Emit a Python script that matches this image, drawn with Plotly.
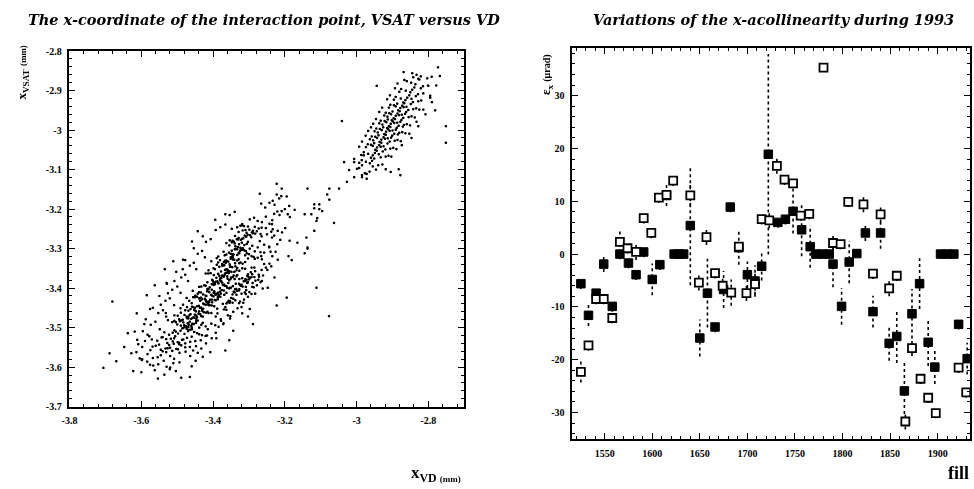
import plotly.graph_objects as go

# ---------------------------------------------------------------
# Left panel: interaction point x-coordinate, VSAT vs VD (mm)
# ---------------------------------------------------------------
# Main cloud, one line per horizontal slice of x_VSAT
main_vd = [
    -3.582,-3.551,-3.528,-3.597,-3.509,-3.565,-3.536,-3.518,-3.492,-3.574,
    -3.581,-3.553,-3.529,-3.507,-3.544,-3.492,-3.566,-3.518,-3.475,-3.596,
    -3.558,-3.531,-3.512,-3.493,-3.476,-3.544,-3.521,-3.454,-3.567,-3.501,
    -3.525,-3.487,-3.539,-3.446,-3.508,-3.573,-3.463,-3.549,-3.496,-3.518,
    -3.526,-3.504,-3.481,-3.462,-3.539,-3.493,-3.516,-3.448,-3.471,-3.554,
    -3.497,-3.529,-3.458,-3.511,-3.485,-3.433,-3.542,-3.476,-3.507,-3.419,
    -3.502,-3.478,-3.457,-3.521,-3.489,-3.443,-3.467,-3.511,-3.429,-3.484,
    -3.472,-3.496,-3.451,-3.534,-3.461,-3.415,-3.506,-3.482,-3.437,-3.468,
    -3.491,-3.467,-3.446,-3.479,-3.512,-3.431,-3.458,-3.486,-3.403,-3.474,
    -3.452,-3.498,-3.463,-3.437,-3.481,-3.524,-3.419,-3.469,-3.445,-3.488,
    -3.473,-3.456,-3.502,-3.392,-3.441,-3.478,-3.466,-3.427,-3.459,-3.506,
    -3.478,-3.452,-3.434,-3.467,-3.493,-3.418,-3.445,-3.471,-3.386,-3.459,
    -3.439,-3.483,-3.449,-3.424,-3.467,-3.506,-3.403,-3.455,-3.431,-3.472,
    -3.461,-3.443,-3.488,-3.377,-3.427,-3.464,-3.452,-3.411,-3.446,-3.497,
    -3.461,-3.437,-3.418,-3.449,-3.476,-3.402,-3.428,-3.454,-3.368,-3.443,
    -3.423,-3.467,-3.432,-3.408,-3.451,-3.489,-3.387,-3.438,-3.414,-3.457,
    -3.446,-3.426,-3.471,-3.361,-3.411,-3.448,-3.435,-3.395,-3.429,-3.482,
    -3.443,-3.419,-3.401,-3.432,-3.458,-3.385,-3.411,-3.437,-3.351,-3.426,
    -3.406,-3.449,-3.415,-3.391,-3.434,-3.472,-3.371,-3.421,-3.397,-3.352,
    -3.429,-3.409,-3.454,-3.344,-3.394,-3.431,-3.418,-3.378,-3.412,-3.465,
    -3.348,-3.355,-3.361,-3.342,-3.336,-3.358,-3.385,-3.323,-3.402,-3.314,
    -3.426,-3.402,-3.383,-3.415,-3.441,-3.368,-3.394,-3.419,-3.334,-3.409,
    -3.389,-3.432,-3.397,-3.374,-3.417,-3.455,-3.353,-3.404,-3.379,-3.337,
    -3.411,-3.391,-3.437,-3.326,-3.377,-3.414,-3.401,-3.361,-3.395,-3.307,
    -3.331,-3.338,-3.344,-3.325,-3.319,-3.341,-3.367,-3.306,-3.385,-3.448,
    -3.408,-3.384,-3.366,-3.397,-3.423,-3.351,-3.376,-3.402,-3.316,-3.391,
    -3.371,-3.414,-3.379,-3.356,-3.399,-3.437,-3.335,-3.386,-3.361,-3.319,
    -3.393,-3.373,-3.419,-3.308,-3.359,-3.396,-3.383,-3.343,-3.377,-3.289,
    -3.313,-3.321,-3.326,-3.307,-3.301,-3.323,-3.349,-3.288,-3.367,-3.431,
    -3.389,-3.366,-3.348,-3.379,-3.405,-3.333,-3.358,-3.384,-3.298,-3.373,
    -3.353,-3.396,-3.361,-3.338,-3.381,-3.419,-3.317,-3.368,-3.343,-3.301,
    -3.375,-3.355,-3.401,-3.291,-3.341,-3.378,-3.365,-3.325,-3.359,-3.271,
    -3.295,-3.303,-3.308,-3.289,-3.283,-3.305,-3.331,-3.270,-3.349,-3.412,
    -3.381,-3.358,-3.339,-3.371,-3.397,-3.325,-3.351,-3.376,-3.291,-3.365,
    -3.345,-3.388,-3.353,-3.331,-3.373,-3.411,-3.309,-3.361,-3.336,-3.293,
    -3.367,-3.347,-3.393,-3.283,-3.333,-3.371,-3.357,-3.317,-3.351,-3.263,
    -3.373,-3.349,-3.331,-3.363,-3.388,-3.316,-3.342,-3.368,-3.282,-3.356,
    -3.337,-3.379,-3.345,-3.322,-3.365,-3.403,-3.301,-3.352,-3.327,-3.285,
    -3.359,-3.339,-3.384,-3.274,-3.325,-3.362,-3.349,-3.309,-3.343,-3.256,
    -3.354,-3.331,-3.312,-3.344,-3.369,-3.298,-3.323,-3.349,-3.264,-3.338,
    -3.318,-3.361,-3.327,-3.304,-3.346,-3.384,-3.282,-3.334,-3.309,-3.266,
    -3.341,-3.321,-3.366,-3.256,-3.307,-3.344,-3.331,-3.291,-3.325,-3.238,
    -3.346,-3.322,-3.304,-3.336,-3.361,-3.289,-3.315,-3.341,-3.256,-3.329,
    -3.311,-3.353,-3.318,-3.296,-3.338,-3.268,-3.274,-3.326,-3.301,-3.242,
    -3.337,-3.314,-3.295,-3.327,-3.352,-3.281,-3.306,-3.332,-3.248,-3.321,
    -3.302,-3.344,-3.310,-3.287,-3.329,-3.263,-3.266,-3.317,-3.292,-3.234,
    -3.331,-3.308,-3.290,-3.322,-3.346,-3.276,-3.301,-3.327,-3.251,-3.316,
    -3.297,-3.282,-3.305,-3.263,-3.318,-3.236,-3.271,-3.312,-3.287,-3.232,
    -3.296,-3.262,-3.251,-3.228,-3.274,-3.241,-3.213,-3.284,-3.233,-3.219,
    -3.253,-3.227,-3.214,-3.241,-3.198,-3.208,-3.232,-3.186,-3.221,-3.264,
]
main_vsat = [
    -3.585,-3.592,-3.598,-3.581,-3.589,-3.595,-3.583,-3.600,-3.587,-3.593,
    -3.566,-3.574,-3.561,-3.578,-3.569,-3.563,-3.576,-3.571,-3.560,-3.579,
    -3.545,-3.552,-3.558,-3.541,-3.549,-3.555,-3.543,-3.557,-3.547,-3.553,
    -3.551,-3.544,-3.559,-3.546,-3.540,-3.556,-3.548,-3.542,-3.554,-3.550,
    -3.538,-3.521,-3.529,-3.535,-3.523,-3.537,-3.527,-3.533,-3.525,-3.532,
    -3.536,-3.528,-3.522,-3.534,-3.530,-3.531,-3.524,-3.539,-3.526,-3.520,
    -3.509,-3.515,-3.503,-3.517,-3.507,-3.513,-3.505,-3.512,-3.518,-3.501,
    -3.502,-3.514,-3.510,-3.511,-3.504,-3.519,-3.506,-3.500,-3.516,-3.508,
    -3.483,-3.497,-3.487,-3.493,-3.485,-3.492,-3.498,-3.481,-3.489,-3.495,
    -3.490,-3.491,-3.484,-3.499,-3.486,-3.480,-3.496,-3.488,-3.482,-3.494,
    -3.496,-3.489,-3.485,-3.493,-3.481,-3.498,-3.491,-3.487,-3.494,-3.482,
    -3.467,-3.473,-3.465,-3.472,-3.478,-3.461,-3.469,-3.475,-3.463,-3.477,
    -3.464,-3.479,-3.466,-3.460,-3.476,-3.468,-3.462,-3.474,-3.470,-3.471,
    -3.465,-3.473,-3.461,-3.478,-3.471,-3.467,-3.474,-3.462,-3.476,-3.469,
    -3.452,-3.458,-3.441,-3.449,-3.455,-3.443,-3.457,-3.447,-3.453,-3.445,
    -3.440,-3.456,-3.448,-3.442,-3.454,-3.450,-3.451,-3.444,-3.459,-3.446,
    -3.458,-3.451,-3.447,-3.454,-3.442,-3.456,-3.449,-3.445,-3.453,-3.441,
    -3.421,-3.429,-3.435,-3.423,-3.437,-3.427,-3.433,-3.425,-3.432,-3.438,
    -3.428,-3.422,-3.434,-3.430,-3.431,-3.424,-3.439,-3.426,-3.420,-3.436,
    -3.427,-3.434,-3.422,-3.436,-3.429,-3.425,-3.433,-3.421,-3.438,-3.431,
    -3.424,-3.431,-3.438,-3.426,-3.430,-3.435,-3.422,-3.433,-3.428,-3.436,
    -3.415,-3.403,-3.417,-3.407,-3.413,-3.405,-3.412,-3.418,-3.401,-3.409,
    -3.414,-3.410,-3.411,-3.404,-3.419,-3.406,-3.400,-3.416,-3.408,-3.402,
    -3.402,-3.416,-3.409,-3.405,-3.413,-3.401,-3.418,-3.411,-3.407,-3.414,
    -3.406,-3.410,-3.415,-3.402,-3.413,-3.408,-3.416,-3.404,-3.411,-3.418,
    -3.397,-3.387,-3.393,-3.385,-3.392,-3.398,-3.381,-3.389,-3.395,-3.383,
    -3.391,-3.384,-3.399,-3.386,-3.380,-3.396,-3.388,-3.382,-3.394,-3.390,
    -3.389,-3.385,-3.393,-3.381,-3.398,-3.391,-3.387,-3.394,-3.382,-3.396,
    -3.382,-3.393,-3.388,-3.396,-3.384,-3.391,-3.398,-3.386,-3.390,-3.395,
    -3.373,-3.365,-3.372,-3.378,-3.361,-3.369,-3.375,-3.363,-3.377,-3.367,
    -3.379,-3.366,-3.360,-3.376,-3.368,-3.362,-3.374,-3.370,-3.371,-3.364,
    -3.373,-3.361,-3.378,-3.371,-3.367,-3.374,-3.362,-3.376,-3.369,-3.365,
    -3.373,-3.368,-3.376,-3.364,-3.371,-3.378,-3.366,-3.370,-3.375,-3.362,
    -3.345,-3.352,-3.358,-3.341,-3.349,-3.355,-3.343,-3.357,-3.347,-3.353,
    -3.346,-3.340,-3.356,-3.348,-3.342,-3.354,-3.350,-3.351,-3.344,-3.359,
    -3.341,-3.358,-3.351,-3.347,-3.354,-3.342,-3.356,-3.349,-3.345,-3.353,
    -3.338,-3.321,-3.329,-3.335,-3.323,-3.337,-3.327,-3.333,-3.325,-3.332,
    -3.336,-3.328,-3.322,-3.334,-3.330,-3.331,-3.324,-3.339,-3.326,-3.320,
    -3.331,-3.327,-3.334,-3.322,-3.336,-3.329,-3.325,-3.333,-3.321,-3.338,
    -3.309,-3.315,-3.303,-3.317,-3.307,-3.313,-3.305,-3.312,-3.318,-3.301,
    -3.302,-3.314,-3.310,-3.311,-3.304,-3.319,-3.306,-3.300,-3.316,-3.308,
    -3.314,-3.302,-3.316,-3.309,-3.305,-3.313,-3.301,-3.318,-3.311,-3.307,
    -3.283,-3.297,-3.287,-3.293,-3.285,-3.292,-3.298,-3.281,-3.289,-3.295,
    -3.290,-3.291,-3.284,-3.299,-3.286,-3.280,-3.296,-3.288,-3.282,-3.294,
    -3.267,-3.273,-3.265,-3.272,-3.278,-3.261,-3.269,-3.275,-3.263,-3.277,
    -3.264,-3.279,-3.266,-3.260,-3.276,-3.268,-3.262,-3.274,-3.270,-3.271,
    -3.245,-3.252,-3.258,-3.241,-3.249,-3.255,-3.243,-3.257,-3.247,-3.253,
    -3.251,-3.244,-3.259,-3.246,-3.240,-3.256,-3.248,-3.242,-3.254,-3.250,
    -3.225,-3.232,-3.218,-3.211,-3.229,-3.236,-3.214,-3.221,-3.227,-3.205,
    -3.195,-3.188,-3.172,-3.183,-3.199,-3.166,-3.178,-3.191,-3.162,-3.185,
]

# Wider, thinner envelope of the main cloud (pairs listed slice by slice)
outer_vd = [
    -3.603,-3.447,-3.612,-3.462,
    -3.596,-3.431,-3.588,-3.418,-3.607,-3.441,
    -3.581,-3.402,-3.594,-3.391,-3.569,-3.413,-3.576,
    -3.572,-3.383,-3.559,-3.369,-3.586,-3.391,-3.547,-3.376,
    -3.551,-3.357,-3.538,-3.342,-3.566,-3.364,-3.529,-3.351,-3.544,
    -3.531,-3.326,-3.519,-3.312,-3.548,-3.333,-3.507,-3.319,-3.524,-3.301,
    -3.512,-3.297,-3.498,-3.285,-3.527,-3.303,-3.489,-3.291,-3.506,-3.276,
    -3.487,-3.272,-3.476,-3.259,-3.501,-3.281,-3.468,-3.266,-3.483,
    -3.463,-3.251,-3.452,-3.241,-3.476,-3.262,-3.445,-3.247,
    -3.441,-3.233,-3.429,-3.224,-3.452,-3.242,-3.421,
    -3.418,-3.219,-3.405,-3.211,-3.427,-3.228,
    -3.391,-3.206,-3.378,-3.197,-3.364,
    -3.352,-3.184,-3.338,-3.171,
]
outer_vsat = [
    -3.577,-3.583,-3.561,-3.571,
    -3.548,-3.552,-3.533,-3.539,-3.541,-3.563,
    -3.517,-3.526,-3.508,-3.512,-3.529,-3.503,-3.521,
    -3.492,-3.497,-3.484,-3.488,-3.478,-3.471,-3.503,-3.482,
    -3.462,-3.468,-3.455,-3.459,-3.449,-3.447,-3.471,-3.476,-3.441,
    -3.431,-3.437,-3.425,-3.428,-3.419,-3.416,-3.442,-3.447,-3.412,-3.421,
    -3.403,-3.409,-3.395,-3.397,-3.388,-3.386,-3.411,-3.414,-3.381,-3.392,
    -3.372,-3.378,-3.365,-3.367,-3.358,-3.356,-3.381,-3.384,-3.351,
    -3.342,-3.347,-3.335,-3.337,-3.328,-3.326,-3.351,-3.353,
    -3.312,-3.318,-3.305,-3.307,-3.298,-3.296,-3.321,
    -3.282,-3.288,-3.275,-3.277,-3.268,-3.266,
    -3.252,-3.258,-3.245,-3.247,-3.238,
    -3.214,-3.219,-3.206,-3.201,
]

# Sparse fringe of the main cloud and isolated events
fringe_vd = [
    -3.342,-3.317,-3.389,-3.296,-3.281,-3.246,-3.301,-3.406,-3.427,-3.353,
    -3.227,-3.218,-3.262,-3.188,-3.236,-3.458,-3.463,-3.561,-3.574,-3.533,
    -3.482,-3.611,-3.457,-3.441,-3.617,-3.528,-3.509,-3.392,-3.583,-3.646,
    -3.636,-3.679,-3.687,-3.668,-3.704,-3.626,-3.621,-3.110,-3.193,-3.221,
    -3.364,-3.287,-3.075,-3.598,-3.561,-3.534,-3.502,-3.487,-3.552,-3.519,
    -3.330,-3.310,-3.280,-3.350,-3.370,-3.260,-3.300,-3.590,-3.610,-3.530,
]
fringe_vsat = [
    -3.507,-3.463,-3.526,-3.452,-3.413,-3.398,-3.471,-3.561,-3.573,-3.531,
    -3.372,-3.327,-3.381,-3.318,-3.344,-3.597,-3.624,-3.392,-3.452,-3.351,
    -3.327,-3.463,-3.281,-3.255,-3.509,-3.386,-3.331,-3.226,-3.417,-3.548,
    -3.513,-3.433,-3.564,-3.584,-3.601,-3.564,-3.609,-3.398,-3.423,-3.443,
    -3.557,-3.490,-3.470,-3.612,-3.607,-3.618,-3.609,-3.626,-3.628,-3.604,
    -3.450,-3.410,-3.380,-3.470,-3.490,-3.400,-3.370,-3.490,-3.530,-3.462,
]

# Events between the two clouds and at the top of the main cloud
bridge_vd = [
    -3.033,-3.005,-3.019,-2.997,-2.983,-2.970,-3.005,-2.983,-3.025,-2.978,
    -3.047,-3.074,-3.080,-3.074,-3.102,-3.116,-3.094,-3.108,-3.124,-3.061,
    -3.116,-3.138,-3.135,-3.143,-3.039,-2.942,-3.221,-3.207,-3.193,-3.268,
    -3.135,-3.143,-3.116,-3.102,-3.110,-3.116,-3.185,-3.163,-3.135,-3.179,
    -3.364,-3.317,-3.234,-3.218,-3.190,-3.207,
]
bridge_vsat = [
    -3.080,-3.080,-3.100,-3.097,-3.088,-3.110,-3.118,-3.118,-3.130,-3.063,
    -3.147,-3.147,-3.162,-3.175,-3.187,-3.197,-3.204,-3.222,-3.212,-3.234,
    -3.254,-3.271,-3.299,-3.311,-2.976,-2.887,-3.135,-3.147,-3.167,-3.160,
    -3.147,-3.212,-3.187,-3.199,-3.229,-3.254,-3.279,-3.284,-3.296,-3.328,
    -3.212,-3.237,-3.237,-3.254,-3.212,-3.204,
]

# Upper cloud
upper_vd = [
    -2.991,-2.962,-2.944,-2.975,-2.953,
    -2.984,-2.961,-2.938,-2.972,-2.949,-2.926,-2.955,-2.991,
    -2.978,-2.953,-2.931,-2.966,-2.942,-2.917,-2.947,-2.985,-2.925,-2.958,-2.936,-2.909,
    -2.967,-2.941,-2.918,-2.953,-2.929,-2.904,-2.935,-2.972,-2.912,-2.946,-2.923,-2.896,-2.958,-2.931,-2.887,-2.949,
    -2.956,-2.929,-2.906,-2.941,-2.917,-2.892,-2.923,-2.961,-2.899,-2.934,-2.911,-2.884,-2.946,-2.919,-2.875,-2.937,-2.902,-2.952,
    -2.943,-2.916,-2.893,-2.928,-2.904,-2.879,-2.910,-2.948,-2.886,-2.921,-2.898,-2.871,-2.933,-2.906,-2.862,-2.924,-2.889,-2.939,-2.913,-2.883,
    -2.931,-2.903,-2.881,-2.915,-2.891,-2.866,-2.897,-2.935,-2.873,-2.908,-2.885,-2.858,-2.920,-2.893,-2.849,-2.911,-2.876,-2.926,-2.900,-2.869,
    -2.917,-2.889,-2.868,-2.902,-2.878,-2.853,-2.884,-2.921,-2.860,-2.895,-2.872,-2.845,-2.907,-2.880,-2.836,-2.898,-2.863,-2.912,
    -2.904,-2.876,-2.854,-2.889,-2.865,-2.840,-2.871,-2.908,-2.847,-2.882,-2.859,-2.832,-2.894,-2.867,-2.823,-2.885,
    -2.889,-2.862,-2.841,-2.875,-2.851,-2.826,-2.857,-2.894,-2.833,-2.868,-2.845,-2.818,
    -2.874,-2.848,-2.827,-2.861,-2.837,-2.812,-2.843,-2.879,-2.819,
    -2.858,-2.834,-2.813,-2.846,-2.823,-2.799,
    -2.843,-2.819,-2.801,-2.831,
    -2.771,-2.766,-2.867,-2.840,-2.826,-2.749,-2.749,-2.779,-2.798,-2.793,
    -2.876,-2.903,-2.917,-2.881,-2.970,-2.983,
    -3.005,-2.901,-2.991,-2.872,-2.983,-2.973,-2.851,-2.966,-2.845,
    -2.952,-2.831,-2.944,-2.826,-2.958,-2.935,-2.812,-2.927,-2.806,
    -2.913,-2.793,-2.905,-2.788,-2.891,-2.776,-2.884,-2.865,-2.789,
]
upper_vsat = [
    -3.095,-3.104,-3.099,-3.108,-3.091,
    -3.075,-3.083,-3.088,-3.079,-3.071,-3.086,-3.077,-3.082,
    -3.055,-3.063,-3.068,-3.059,-3.051,-3.066,-3.057,-3.062,-3.053,-3.069,-3.060,-3.064,
    -3.035,-3.043,-3.048,-3.039,-3.031,-3.046,-3.037,-3.042,-3.033,-3.049,-3.040,-3.044,-3.036,-3.041,-3.047,-3.032,
    -3.015,-3.023,-3.028,-3.019,-3.011,-3.026,-3.017,-3.022,-3.013,-3.029,-3.020,-3.024,-3.016,-3.021,-3.027,-3.012,-3.018,-3.025,
    -2.995,-3.003,-3.008,-2.999,-2.991,-3.006,-2.997,-3.002,-2.993,-3.009,-3.000,-3.004,-2.996,-3.001,-3.007,-2.992,-2.998,-3.005,-2.994,-3.010,
    -2.975,-2.983,-2.988,-2.979,-2.971,-2.986,-2.977,-2.982,-2.973,-2.989,-2.980,-2.984,-2.976,-2.981,-2.987,-2.972,-2.978,-2.985,-2.974,-2.990,
    -2.955,-2.963,-2.968,-2.959,-2.951,-2.966,-2.957,-2.962,-2.953,-2.969,-2.960,-2.964,-2.956,-2.961,-2.967,-2.952,-2.958,-2.965,
    -2.935,-2.943,-2.948,-2.939,-2.931,-2.946,-2.937,-2.942,-2.933,-2.949,-2.940,-2.944,-2.936,-2.941,-2.947,-2.932,
    -2.915,-2.923,-2.928,-2.919,-2.911,-2.926,-2.917,-2.922,-2.913,-2.929,-2.920,-2.924,
    -2.895,-2.903,-2.908,-2.899,-2.891,-2.906,-2.897,-2.902,-2.893,
    -2.875,-2.883,-2.888,-2.879,-2.871,-2.886,
    -2.855,-2.863,-2.868,-2.859,
    -2.840,-2.862,-2.852,-2.865,-2.869,-2.989,-3.031,-2.949,-2.887,-2.912,
    -3.113,-3.105,-3.098,-3.098,-3.122,-3.113,
    -3.072,-3.066,-3.041,-3.037,-3.028,-3.013,-3.008,-3.001,-3.019,
    -2.983,-2.978,-2.971,-2.989,-2.992,-2.953,-2.947,-2.942,-2.959,
    -2.921,-2.917,-2.911,-2.928,-2.893,-2.886,-2.881,-2.872,-2.864,
]

vd_ticks = [-3.8, -3.6, -3.4, -3.2, -3.0, -2.8]
vd_labels = ["-3.8", "-3.6", "-3.4", "-3.2", "-3", "-2.8"]
vsat_ticks = [-2.8, -2.9, -3.0, -3.1, -3.2, -3.3, -3.4, -3.5, -3.6, -3.7]
vsat_labels = ["-2.8", "-2.9", "-3", "-3.1", "-3.2", "-3.3", "-3.4", "-3.5", "-3.6", "-3.7"]

# ---------------------------------------------------------------
# Right panel: x-acollinearity per fill during 1993 (µrad)
# ---------------------------------------------------------------
fill_open = [1525, 1533, 1541, 1549, 1558, 1566, 1574, 1583, 1591, 1599,
             1607, 1615, 1622, 1640, 1649, 1657, 1666, 1674, 1683, 1691,
             1699, 1708, 1715, 1723, 1731, 1739, 1748, 1756, 1765, 1780,
             1790, 1798, 1806, 1822, 1832, 1840, 1849, 1857, 1866, 1873,
             1882, 1890, 1898, 1922, 1930]
eps_open = [-22.3, -17.3, -8.5, -8.5, -12.1, 2.3, 1.1, 0.4, 6.8, 4.0,
            10.7, 11.2, 13.9, 11.1, -5.4, 3.2, -3.6, -6.0, -7.3, 1.4,
            -7.4, -5.7, 6.6, 6.4, 16.7, 14.1, 13.4, 7.3, 7.6, 35.3,
            2.1, 1.9, 9.9, 9.4, -3.7, 7.5, -6.5, -4.1, -31.7, -17.8,
            -23.6, -27.2, -30.1, -21.5, -26.2]
err_open = [2, 1, 1, 1, 1, 2, 1, 1.5, 1, 1,
            1, 1, 1, 2, 1.5, 1.5, 1, 1.5, 2.5, 1,
            1.5, 2, 1, 1.5, 1.5, 1, 1, 1, 1, 0.5,
            1.5, 1, 1, 1.5, 1, 1.5, 1.5, 1, 1.5, 1.5,
            1, 1, 1, 1, 1]

fill_full = [1525, 1533, 1541, 1549, 1558, 1566, 1575, 1583, 1591, 1600,
             1608, 1615, 1623, 1628, 1633, 1640, 1650, 1658, 1666, 1675,
             1682, 1691, 1700, 1708, 1715, 1722, 1732, 1740, 1748, 1757,
             1766, 1772, 1779, 1786, 1790, 1799, 1807, 1815, 1824, 1832,
             1840, 1849, 1857, 1865, 1873, 1881, 1890, 1897, 1903, 1910,
             1917, 1922, 1931]
eps_full = [-5.6, -11.6, -7.4, -1.9, -9.9, 0, -1.7, -3.9, 0.4, -4.8,
            -2.0, 11.1, 0, 0, 0, 5.4, -15.9, -7.4, -13.8, -6.7,
            8.9, 1.2, -3.9, -5.1, -2.3, 18.9, 6.0, 6.6, 8.1, 4.6,
            1.4, 0, 0, 0, -1.9, -9.9, -1.5, 0.1, 4.0, -10.9,
            4.0, -16.9, -15.6, -25.9, -11.3, -5.6, -16.7, -21.4, 0, 0,
            0, -13.3, -19.8]
err_full = [1, 2, 1, 1.5, 1, 1, 1, 1, 1, 3,
            1, 2, 0.5, 0.5, 0.5, 11.3, 3.5, 6.5, 1, 3.5,
            1, 3.2, 2.5, 3, 2.7, 19, 1, 1, 4.2, 5,
            4, 0.5, 0.5, 0.5, 4.4, 3.5, 4, 0.5, 1.5, 3,
            3, 3.3, 5, 5.5, 4.7, 4.8, 4.5, 3.2, 0.5, 0.5,
            0.5, 1, 3]

eps_ticks = [-30, -20, -10, 0, 10, 20, 30]
eps_labels = ["-30", "-20", "-10", "0", "10", "20", "30"]

SERIF = "Liberation Serif"
TITLE_SERIF = "DejaVu Serif"
W, H = 974, 489


def dotted_bars(xs, ys, errs):
    bx, by = [], []
    for x, y, e in zip(xs, ys, errs):
        bx += [x, x, None]
        by += [y - e, y + e, None]
    return bx, by


fig = go.Figure()

# left panel scatter
fig.add_trace(go.Scattergl(
    x=main_vd + outer_vd + fringe_vd + bridge_vd + upper_vd,
    y=main_vsat + outer_vsat + fringe_vsat + bridge_vsat + upper_vsat,
    mode="markers",
    marker=dict(color="black", size=2.8, line=dict(width=0)),
    xaxis="x", yaxis="y", showlegend=False,
))

# right panel: dotted error bars, then markers
for xs, ys, es in ((fill_full, eps_full, err_full), (fill_open, eps_open, err_open)):
    bx, by = dotted_bars(xs, ys, es)
    fig.add_trace(go.Scatter(
        x=bx, y=by, mode="lines",
        line=dict(color="black", width=1.6, dash="dot"),
        xaxis="x2", yaxis="y2", showlegend=False, hoverinfo="skip",
    ))

fig.add_trace(go.Scatter(
    x=fill_full, y=eps_full, mode="markers",
    marker=dict(symbol="square", size=8.5, color="black",
                line=dict(color="black", width=1)),
    xaxis="x2", yaxis="y2", showlegend=False,
))
fig.add_trace(go.Scatter(
    x=fill_open, y=eps_open, mode="markers",
    marker=dict(symbol="square", size=8, color="white",
                line=dict(color="black", width=1.8)),
    xaxis="x2", yaxis="y2", showlegend=False,
))

tickfont = dict(family=SERIF, size=10, color="black", weight="bold")
axis_common = dict(
    showline=True, linecolor="black", linewidth=1.6, mirror="allticks",
    ticks="inside", ticklen=6, tickwidth=1.3, tickcolor="black",
    showgrid=False, zeroline=False, tickfont=tickfont,
    ticklabelstandoff=4,
)

fig.update_layout(
    width=W, height=H,
    margin=dict(l=0, r=0, t=0, b=0),
    paper_bgcolor="white", plot_bgcolor="white",
    xaxis=dict(domain=[62 / W, 460 / W], range=[-3.8, -2.7],
               tickvals=vd_ticks, ticktext=vd_labels,
               minor=dict(dtick=0.04, tick0=-3.8, ticks="inside", ticklen=3,
                          tickwidth=1, tickcolor="black"),
               anchor="y", **axis_common),
    yaxis=dict(domain=[1 - 410 / H, 1 - 47 / H], range=[-3.7, -2.8],
               tickvals=vsat_ticks, ticktext=vsat_labels,
               minor=dict(dtick=0.02, tick0=-3.7, ticks="inside", ticklen=3,
                          tickwidth=1, tickcolor="black"),
               anchor="x", **axis_common),
    xaxis2=dict(domain=[569 / W, 970 / W], range=[1516, 1934],
                tickvals=[1550, 1600, 1650, 1700, 1750, 1800, 1850, 1900],
                minor=dict(dtick=10, tick0=1500, ticks="inside", ticklen=3,
                           tickwidth=1, tickcolor="black"),
                anchor="y2", **axis_common),
    yaxis2=dict(domain=[1 - 443 / H, 1 - 44 / H], range=[-35, 39],
                tickvals=eps_ticks, ticktext=eps_labels,
                minor=dict(dtick=2, tick0=0, ticks="inside", ticklen=3,
                           tickwidth=1, tickcolor="black"),
                anchor="x2", **axis_common),
)

title_font = dict(family=TITLE_SERIF, size=14.5, color="black", weight="bold", style="italic")
label_font = dict(family=SERIF, size=13, color="black", weight="bold")

annotations = [
    dict(text="The x-coordinate of the interaction point, VSAT versus VD",
         x=258 / W, y=1 - 15 / H, font=title_font),
    dict(text="Variations of the x-acollinearity during 1993",
         x=772 / W, y=1 - 15 / H, font=title_font),
    dict(text="x<sub>VSAT</sub> <span style='font-size:9px'>(mm)</span>",
         x=15 / W, y=1 - 69 / H, textangle=-90, font=label_font),
    dict(text="x<sub>VD <span style='font-size:9px'>(mm)</span></sub>",
         x=432 / W, y=1 - 479 / H, font=dict(family=SERIF, size=17, color="black", weight="bold")),
    dict(text="ε<sub>x</sub> <span style='font-size:10px'>(μrad)</span>",
         x=543 / W, y=1 - 71 / H, textangle=-90, font=label_font),
    dict(text="fill", x=958 / W, y=1 - 478 / H,
         font=dict(family=SERIF, size=18, color="black", weight="bold")),
]
for a in annotations:
    fig.add_annotation(xref="paper", yref="paper", showarrow=False,
                       xanchor="center", yanchor="middle", **a)

fig.write_html("out.html")
